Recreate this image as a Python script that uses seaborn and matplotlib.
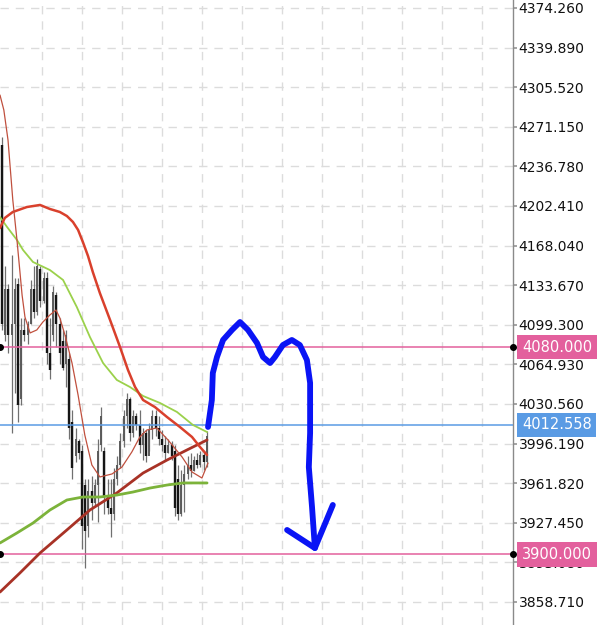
"""
Price chart with candles, moving averages, levels and a hand-drawn path
"""

import matplotlib.pyplot as plt
import pandas as pd
import numpy as np
import seaborn as sns

# candles (bar index 0..64)
opens = [4255, 4090, 4130, 4090, 4100, 4135, 4035, 4095, 4090, 4100, 4130, 4110, 4148,
         4120, 4140, 4075, 4090, 4125, 4100, 4085, 4065, 4070, 4015, 3985, 3998, 3990,
         3960, 3925, 3955, 3945, 3960, 3995, 3990, 3950, 3940, 3935, 3965, 3978, 3998,
         4020, 4035, 4005, 4020, 4012, 3995, 4005, 3985, 4008, 4020, 4010, 4000, 3995,
         3988, 3995, 3990, 3965, 3935, 3960, 3970, 3978, 3972, 3982, 3978, 3986, 3980]
highs = [4262, 4150, 4135, 4160, 4140, 4140, 4105, 4105, 4103, 4138, 4150, 4156, 4150,
         4145, 4145, 4105, 4133, 4128, 4105, 4095, 4095, 4075, 4025, 4010, 4000, 3995,
         3965, 3965, 3968, 3965, 4000, 4028, 3993, 3965, 3965, 3975, 3985, 4005, 4025,
         4040, 4037, 4025, 4023, 4025, 4010, 4008, 4014, 4025, 4025, 4020, 4008, 4003,
         4000, 3998, 3995, 3978, 3973, 3978, 3985, 3988, 3985, 3988, 3990, 3990, 4007]
lows = [4095, 4085, 4075, 4005, 4040, 4015, 4030, 4085, 4083, 4100, 4105, 4108, 4115,
        4118, 4065, 4052, 4085, 4080, 4065, 4060, 4045, 4000, 3965, 3980, 3983, 3905,
        3888, 3915, 3930, 3942, 3928, 3990, 3935, 3935, 3915, 3930, 3960, 3975, 3993,
        4010, 3998, 4002, 4008, 3988, 3982, 3980, 3990, 4000, 4003, 3995, 3990, 3982,
        3988, 3982, 3933, 3930, 3933, 3937, 3965, 3967, 3972, 3975, 3976, 3973, 3976]
closes = [4100, 4130, 4090, 4100, 4130, 4030, 4095, 4090, 4100, 4130, 4110, 4150, 4120,
          4140, 4075, 4060, 4128, 4100, 4075, 4062, 4090, 4010, 3975, 4000, 3988, 3925,
          3920, 3955, 3945, 3960, 3990, 4020, 3950, 3940, 3935, 3965, 3978, 3998, 4020,
          4035, 4005, 4020, 4012, 3995, 4005, 3985, 4008, 4020, 4010, 4000, 3995, 3988,
          3995, 3985, 3940, 3935, 3960, 3970, 3978, 3972, 3982, 3978, 3986, 3980, 4003]

# moving averages (bar index, price)
fast_x = [-0.6, 0.6, 1.9, 3.4, 4.7, 6.3, 7.2, 8.8, 10.9, 12.8, 15.0, 16.9, 18.1, 19.7, 21.9,
          23.8, 25.9, 28.1, 30.6, 34.4, 37.5, 40.6, 43.1, 45.3, 48.4, 51.9, 56.3, 59.4, 62.5, 64.4]
fast_y = [4298.7, 4285.7, 4259.7, 4207.6, 4172.9, 4125.1, 4106.0, 4092.2, 4094.8, 4101.7,
          4107.8, 4112.1, 4105.2, 4090.4, 4066.1, 4038.3, 4003.6, 3977.6, 3967.2, 3969.8,
          3975.8, 3988.9, 4001.9, 4008.0, 4009.7, 3999.3, 3984.5, 3971.5, 3966.3, 3979.3]

mid_x = [-0.6, 0.9, 3.4, 7.8, 11.9, 15.0, 18.1, 20.3, 22.2, 23.8, 25.3, 26.9, 28.4, 30.6,
         33.8, 36.9, 39.4, 41.6, 44.1, 47.8, 51.6, 55.6, 59.4, 61.9, 64.1]
mid_y = [4183.3, 4192.0, 4197.2, 4201.5, 4203.3, 4199.8, 4197.2, 4193.7, 4188.5, 4181.6,
         4171.1, 4159.0, 4145.1, 4126.9, 4103.4, 4080.0, 4060.0, 4045.3, 4034.0, 4027.9,
         4019.2, 4010.6, 4001.9, 3993.2, 3986.3]

lgreen_x = [-0.6, 1.6, 4.7, 6.6, 9.7, 15.0, 19.1, 23.4, 27.5, 31.6, 35.9, 40.0, 44.1,
            49.4, 54.7, 59.7, 64.1]
lgreen_y = [4192.8, 4184.2, 4172.9, 4164.2, 4153.8, 4146.8, 4138.2, 4114.7, 4088.7, 4066.1,
            4051.4, 4045.3, 4037.5, 4031.4, 4023.6, 4012.3, 4006.2]

dgreen_x = [-0.6, 4.7, 9.7, 15.0, 20.3, 25.3, 30.6, 35.9, 40.9, 46.3, 51.6, 56.6, 64.1]
dgreen_y = [3909.9, 3918.6, 3927.2, 3938.5, 3947.2, 3949.8, 3949.8, 3951.5, 3954.1,
            3957.6, 3960.2, 3962.0, 3962.0]

slow_x = [-0.6, 5.6, 11.9, 20.3, 27.5, 35.9, 44.1, 51.6, 57.8, 64.1]
slow_y = [3867.3, 3883.8, 3901.2, 3921.2, 3938.5, 3953.3, 3970.6, 3981.9, 3990.6, 3999.3]

# hand-drawn forecast path
path_x = [64.4, 65.6, 65.9, 67.2, 69.1, 71.9, 74.4, 76.9, 79.7, 81.6, 83.8, 85.3, 87.8,
          90.6, 93.1, 95.3, 96.3, 96.3, 95.9, 96.9, 97.8]
path_y = [4010.6, 4034.0, 4057.4, 4071.3, 4086.1, 4094.8, 4101.7, 4094.8, 4083.5, 4071.3,
          4066.1, 4071.3, 4081.7, 4086.1, 4081.7, 4068.7, 4048.8, 4005.4, 3975.8, 3941.1, 3905.5]
arrow_x = [89.1, 97.8, 103.4]
arrow_y = [3921.2, 3905.5, 3942.9]

# price levels
levels = [4080.000, 4012.558, 3900.000]
level_colors = ['#e3609d', '#5a9be4', '#e3609d']
yticks = [4374.260, 4339.890, 4305.520, 4271.150, 4236.780, 4202.410, 4168.040, 4133.670,
          4099.300, 4064.930, 4030.560, 3996.190, 3961.820, 3927.450, 3893.080, 3858.710]

sns.set_theme(style="white")
plt.rcParams['font.family'] = ['DejaVu Sans']

fig = plt.figure(figsize=(6, 6.25), dpi=100)
ax = fig.add_axes([0, 0, 513 / 600, 1])
ax.set_xlim(-0.6, 159.7)
ax.set_ylim(3838.7, 4381.2)

# grid
ax.set_xticks(np.arange(12.5, 155, 12.5))
ax.set_yticks(yticks)
ax.grid(True, color='#dcdcdc', linestyle=(0, (6, 5)), linewidth=1)
ax.tick_params(axis='x', length=0, labelbottom=False)
ax.yaxis.tick_right()
ax.tick_params(axis='y', length=3, color='#999999', labelsize=10, labelcolor='#111111', pad=1)
ax.set_yticklabels([f'{v:.3f}' for v in yticks])
for s in ['top', 'left', 'bottom']:
    ax.spines[s].set_visible(False)
ax.spines['right'].set_color('#8a8a8a')
ax.spines['right'].set_linewidth(1)

# candles
df = pd.DataFrame({'o': opens, 'h': highs, 'l': lows, 'c': closes})
df['x'] = np.arange(len(df))
ax.vlines(df['x'], df['l'], df['h'], color='#707070', linewidth=0.9, zorder=2)
down = df[df['c'] < df['o']]
up = df[df['c'] >= df['o']]
ax.vlines(down['x'], down['c'], down['o'], color='#151515', linewidth=1.7, zorder=2)
ax.vlines(up['x'], up['o'], up['c'], color='#5a5a5a', linewidth=1.4, zorder=2)

# moving averages
sns.lineplot(x=slow_x, y=slow_y, ax=ax, color='#a83226', linewidth=2.0, zorder=3)
sns.lineplot(x=dgreen_x, y=dgreen_y, ax=ax, color='#7cb33a', linewidth=2.0, zorder=3)
sns.lineplot(x=lgreen_x, y=lgreen_y, ax=ax, color='#9bd14b', linewidth=1.3, zorder=3)
sns.lineplot(x=mid_x, y=mid_y, ax=ax, color='#d9402c', linewidth=1.8, zorder=3)
sns.lineplot(x=fast_x, y=fast_y, ax=ax, color='#c0503e', linewidth=0.9, zorder=3)

# levels
for lv, col in zip(levels, level_colors):
    ax.axhline(lv, color=col, linewidth=1.1, zorder=2.6)
    ax.text(1 + 9 / 513, lv, f'{lv:.3f}', transform=ax.get_yaxis_transform(), color='white',
            fontsize=10.5, va='center', ha='left', zorder=6, clip_on=False,
            bbox=dict(boxstyle='square,pad=0.32', facecolor=col, edgecolor='none'))
for lv in [levels[0], levels[2]]:
    ax.plot([0, 1], [lv, lv], 'o', color='black', markersize=4,
            transform=ax.get_yaxis_transform(), clip_on=False, zorder=7)

# forecast path
sns.lineplot(x=path_x, y=path_y, ax=ax, color='#0a14f5', linewidth=4.2, sort=False,
             estimator=None, zorder=5)
sns.lineplot(x=arrow_x, y=arrow_y, ax=ax, color='#0a14f5', linewidth=4.2, sort=False,
             estimator=None, zorder=5)
for ln in ax.lines[-2:]:
    ln.set_solid_capstyle('round')
    ln.set_solid_joinstyle('round')

ax.set_xlabel('')
ax.set_ylabel('')
fig.savefig('out.png', dpi=100)
